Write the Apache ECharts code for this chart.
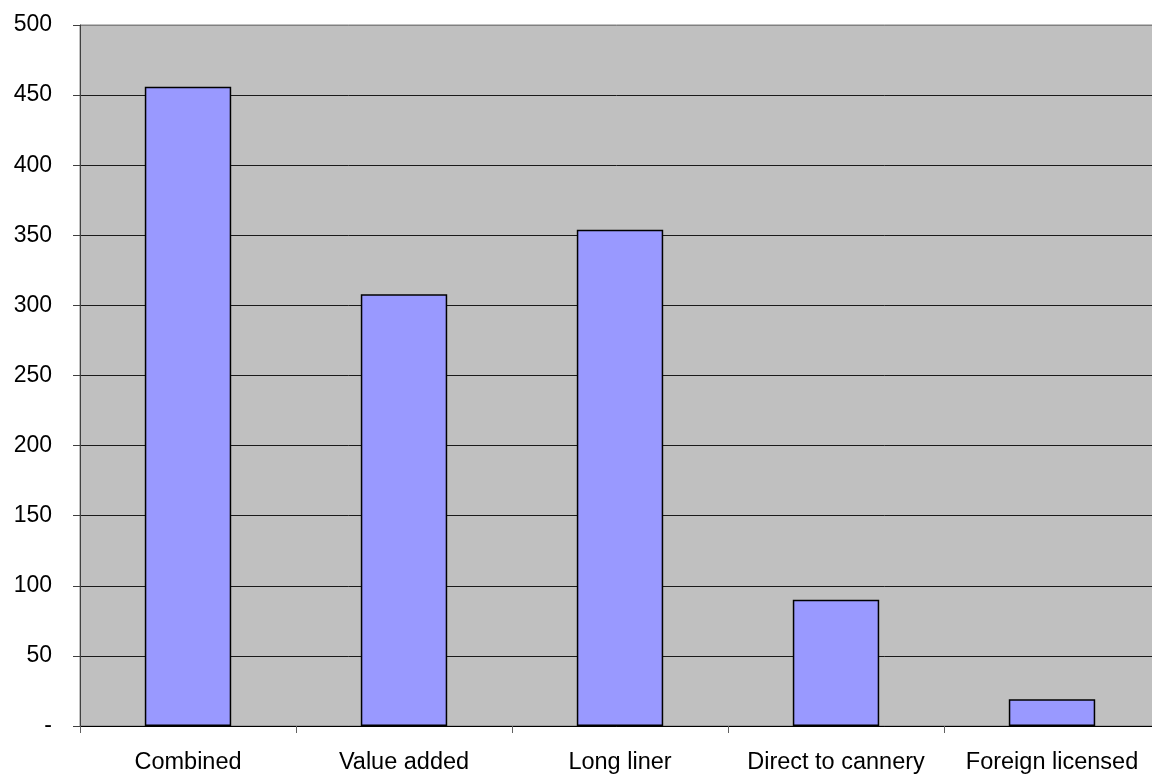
<!DOCTYPE html>
<html><head><meta charset="utf-8">
<script src="https://cdn.jsdelivr.net/npm/echarts@6/dist/echarts.min.js"></script>
<style>html,body{margin:0;padding:0;background:#fff}#c{width:1152px;height:774px}</style>
</head><body><div id="c"></div>
<script>
const categories = ['Combined', 'Value added', 'Long liner', 'Direct to cannery', 'Foreign licensed'];
const values = [456, 308, 354, 90, 19];
const yTicks = { min: 0, max: 500, interval: 50 };

const gridColors = [];
for (let v = yTicks.min; v <= yTicks.max; v += yTicks.interval) gridColors.push(v === yTicks.max ? '#808080' : '#1a1a1a');

const chart = echarts.init(document.getElementById('c'), null, { renderer: 'canvas' });
chart.setOption({
  animation: false,
  backgroundColor: '#ffffff',
  grid: { left: 80, top: 25, width: 1080, bottom: 48, containLabel: false, outerBoundsMode: 'none',
    show: true, backgroundColor: '#C0C0C0', borderColor: '#808080', borderWidth: 1 },
  xAxis: {
    type: 'category', data: categories, boundaryGap: true,
    axisLine: { lineStyle: { color: '#000', width: 1 } },
    axisTick: { show: true, length: 7, inside: false, alignWithLabel: false, lineStyle: { color: '#606060' } },
    axisLabel: { color: '#000', fontSize: 23.5, fontFamily: 'Liberation Sans, Arial, sans-serif', margin: 25, interval: 0 }
  },
  yAxis: {
    type: 'value', min: yTicks.min, max: yTicks.max, interval: yTicks.interval,
    axisLine: { show: true, lineStyle: { color: '#404040', width: 1 } },
    axisTick: { show: true, length: 7, lineStyle: { color: '#404040' } },
    axisLabel: { color: '#000', fontSize: 23, fontFamily: 'Liberation Sans, Arial, sans-serif', margin: 28,
      formatter: v => v === 0 ? '-' : String(v) },
    splitLine: { show: true, lineStyle: { color: gridColors, width: 1 } }
  },
  series: [{
    type: 'bar', data: values, barWidth: '40%',
    itemStyle: { color: '#9999FF', borderColor: '#000', borderWidth: 1.5 }
  }]
});
</script></body></html>
